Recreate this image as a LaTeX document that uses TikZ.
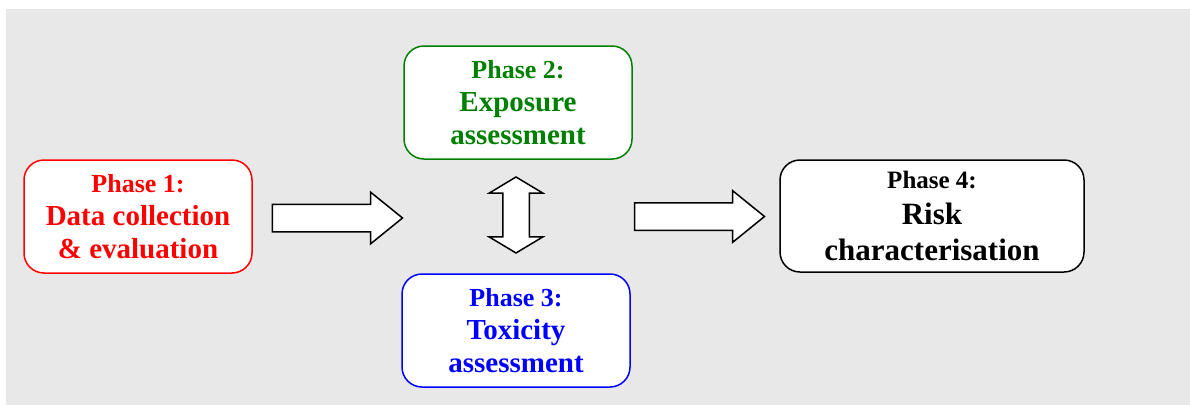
\documentclass[tikz,border=0pt]{standalone}
\usepackage{fontspec}
\setmainfont{Liberation Serif}
\usetikzlibrary{shapes.arrows, positioning}

\definecolor{bggray}{RGB}{232,232,232}
\definecolor{phasegreen}{RGB}{0,128,0}

\begin{document}
\begin{tikzpicture}[x=1pt,y=-1pt,
    phasebox/.style={rectangle,rounded corners=20pt,fill=white,line width=1.5pt,
      minimum width=228pt,minimum height=113pt,align=center,inner sep=0pt,
      font=\fontsize{29}{33}\selectfont\bfseries},
    blockarrow/.style={single arrow,draw=black,line width=1.5pt,fill=white,
      inner xsep=0pt,inner ysep=13pt,single arrow head extend=12pt,
      single arrow tip angle=78},
    updown/.style={double arrow,draw=black,line width=1.5pt,fill=white,
      inner xsep=0pt,inner ysep=12.5pt,double arrow head extend=13.5pt,
      double arrow tip angle=118,rotate=90}]
  \useasboundingbox (0,0) rectangle (1190,405);
  \fill[bggray] (6,9) rectangle (1190,405);

  % the four phases
  \node[phasebox,draw=red,text=red] (p1) at (138,216.5)
        {{\fontsize{26}{33}\selectfont Phase 1:}\\Data collection\\\& evaluation};
  \node[phasebox,draw=phasegreen,text=phasegreen] (p2) at (518,102.5)
        {{\fontsize{26}{33}\selectfont Phase 2:}\\Exposure\\assessment};
  \node[phasebox,draw=blue,text=blue] (p3) at (516,330.5)
        {{\fontsize{26}{33}\selectfont Phase 3:}\\Toxicity\\assessment};
  \node[phasebox,draw=black,text=black,minimum width=304pt,minimum height=112pt,
        font=\fontsize{31}{36}\selectfont\bfseries] (p4) at (932,216)
        {{\fontsize{25}{33}\selectfont Phase 4:}\\Risk\\characterisation};

  % block arrows between them
  \node[blockarrow,minimum height=130pt] (a1) at (329,218) {};
  \node[updown,minimum height=76pt] (a2) at (516,215) {};
  \node[blockarrow,minimum height=130pt] (a3) at (691,216.5) {};
\end{tikzpicture}
\end{document}
